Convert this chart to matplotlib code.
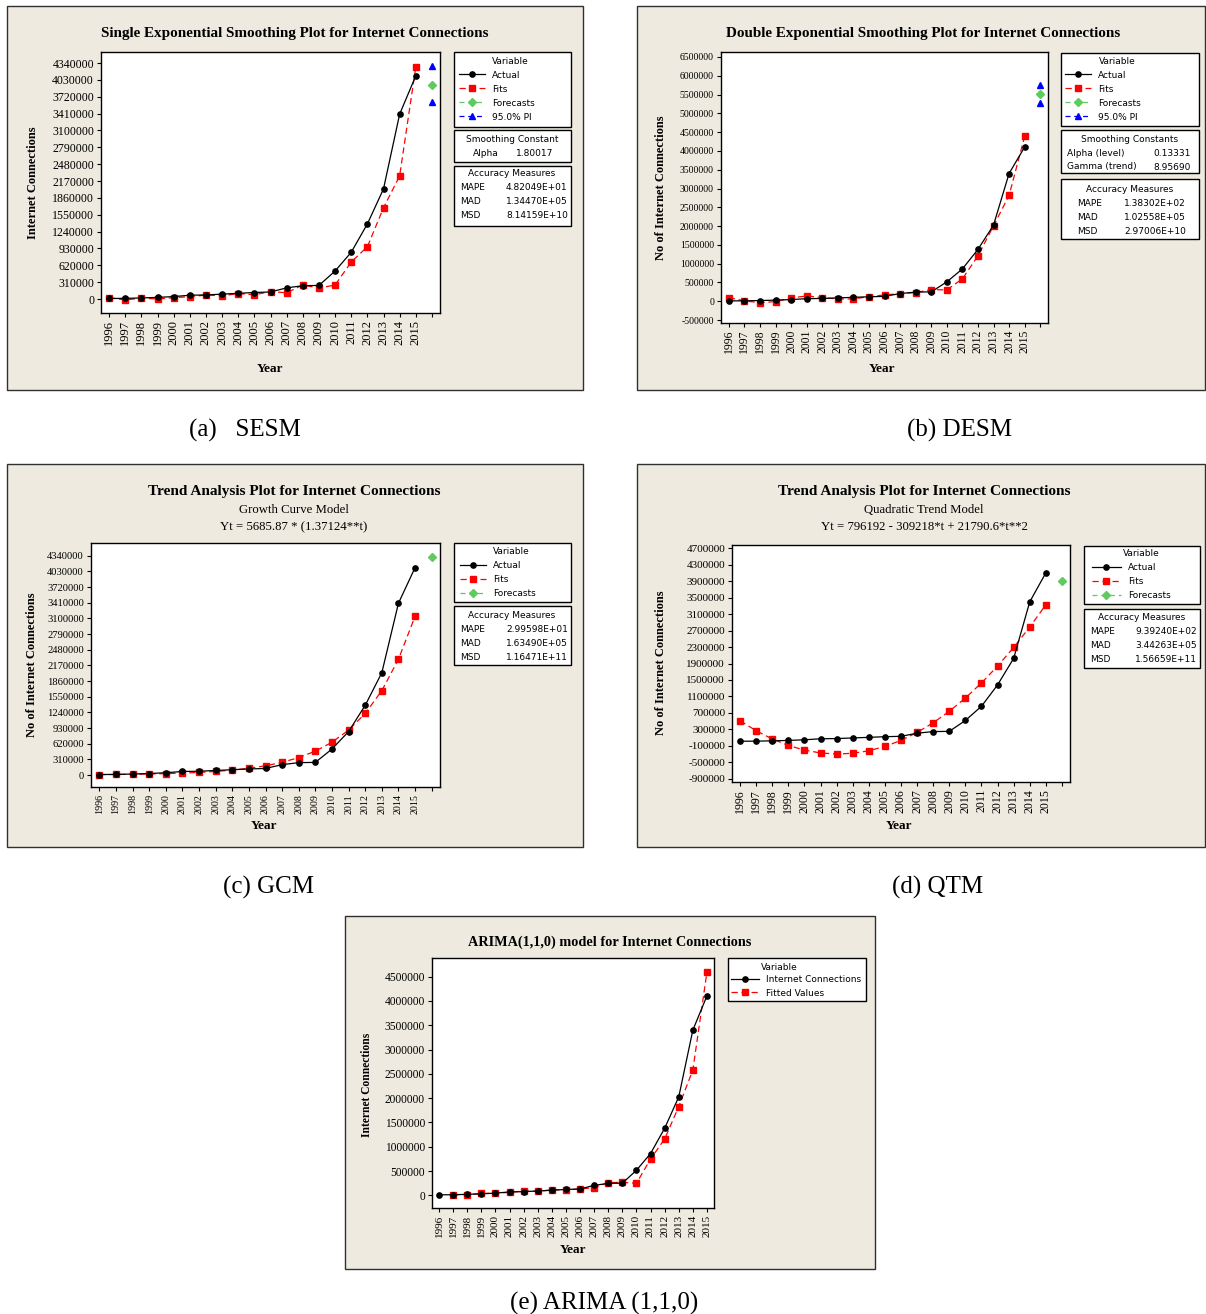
import numpy as np
import matplotlib
matplotlib.use('Agg')
import matplotlib.pyplot as plt
import matplotlib.transforms as mtransforms
from matplotlib.patches import Rectangle
from matplotlib.lines import Line2D

# --
# data

years = list(range(1996, 2016))

actual = [10000, 12000, 20000, 30000, 45000, 70000, 75000, 90000, 105000, 120000,
          130000, 205000, 245000, 250000, 515000, 860000, 1380000, 2025000, 3400000, 4105000]

sesm_fits = [25000, -18000, 18000, 0, 25000, 43000, 73000, 61000, 98000, 80000,
             135000, 116000, 257000, 202000, 257000, 680000, 961000, 1677000, 2265000, 4266000]
sesm_forecast = 3936000
sesm_pi = [3618000, 4285000]

desm_fits = [98000, 9000, -36000, -9000, 89000, 142000, 98000, 62000, 62000, 124000,
             169000, 204000, 231000, 311000, 302000, 595000, 1208000, 2007000, 2815000, 4387000]
desm_forecast = 5506000
desm_pi = [5275000, 5763000]

gcm_fits = [8000, 11000, 15000, 20000, 28000, 38000, 52000, 71000, 97000, 134000,
            183000, 251000, 345000, 473000, 648000, 889000, 1218000, 1671000, 2291000, 3142000]
gcm_forecast = 4308000

qtm_fits = [509000, 265000, 65000, -92000, -205000, -275000, -301000, -283000, -222000, -117000,
            31000, 223000, 459000, 738000, 1061000, 1427000, 1837000, 2290000, 2787000, 3328000]
qtm_forecast = 3912000

arima_fits = [None, 14000, 14000, 41000, 41000, 62000, 89000, 82000, 110000, 117000,
              130000, 158000, 261000, 268000, 247000, 748000, 1159000, 1825000, 2579000, 4596000]

ticks_a = list(range(0, 4340001, 310000))
ticks_b = list(range(-500000, 6500001, 500000))
ticks_d = list(range(-900000, 4700001, 400000))
ticks_e = list(range(0, 4500001, 500000))

sesm_acc = [('MAPE', '4.82049E+01'), ('MAD', '1.34470E+05'), ('MSD', '8.14159E+10')]
desm_acc = [('MAPE', '1.38302E+02'), ('MAD', '1.02558E+05'), ('MSD', '2.97006E+10')]
gcm_acc = [('MAPE', '2.99598E+01'), ('MAD', '1.63490E+05'), ('MSD', '1.16471E+11')]
qtm_acc = [('MAPE', '9.39240E+02'), ('MAD', '3.44263E+05'), ('MSD', '1.56659E+11')]

# --
# style

W, H = 1206, 1314
SERIF = 'Liberation Serif'
SANS = 'DejaVu Sans'
BG = '#EEEADF'
GREEN = '#5FCB5F'
LSZ = 6.5

fig = plt.figure(figsize=(W / 100, H / 100), dpi=100)
PX = mtransforms.Affine2D().scale(1 / W, -1 / H).translate(0, 1) + fig.transFigure

t = np.arange(1, len(years) + 1)

h_actual = Line2D([], [], color='black', lw=0.9, marker='o', ms=3.8)
h_fits = Line2D([], [], color='red', lw=0.9, ls=(0, (5, 3)), marker='s', ms=4.2)
h_fc = Line2D([], [], color=GREEN, lw=0.9, ls=(0, (4, 3)), marker='D', ms=3.8)
h_pi = Line2D([], [], color='blue', lw=0.9, ls=(0, (4, 3)), marker='^', ms=4.2)


def rect(x0, y0, x1, y1):
  return [x0 / W, 1 - y1 / H, (x1 - x0) / W, (y1 - y0) / H]


def box(x0, y0, x1, y1, fc='white', ec='black', z=1):
  fig.add_artist(Rectangle((x0, y0), x1 - x0, y1 - y0, transform=PX,
                           facecolor=fc, edgecolor=ec, lw=1, zorder=z))


def txt(x, y, s, **kw):
  kw.setdefault('ha', 'center')
  kw.setdefault('va', 'center')
  kw.setdefault('family', SANS)
  kw.setdefault('fontsize', LSZ)
  fig.text(x, y, s, transform=PX, **kw)


def legend_rows(x, ys, handles, labels, hl=2.9):
  for y, h, l in zip(ys, handles, labels):
    fig.legend([h], [l], loc='center left', bbox_to_anchor=(x, y), bbox_transform=PX,
               frameon=False, prop={'family': SANS, 'size': LSZ}, handlelength=hl,
               handletextpad=0.8, borderpad=0, borderaxespad=0, numpoints=1)


def main_axes(pbox, n, ylim, yticks, ysz, xsz):
  ax = fig.add_axes(rect(*pbox))
  ax.set_xlim(0.5, n + 0.5)
  ax.set_ylim(*ylim)
  ax.set_xticks(range(1, n + 1))
  ax.set_xticklabels([str(y) for y in years] + [''] * (n - len(years)),
                     rotation=90, family=SERIF, fontsize=xsz)
  ax.set_yticks(yticks)
  ax.set_yticklabels([str(v) for v in yticks], family=SERIF, fontsize=ysz)
  ax.tick_params(direction='out', length=3, width=0.8, pad=2)
  for s in ax.spines.values():
    s.set_linewidth(1)
  return ax


def plot_pair(ax, fits):
  ax.plot(t, actual, color='black', lw=0.9, marker='o', ms=3.8, zorder=3)
  ax.plot(t, np.array(fits, dtype=float), color='red', lw=0.9, ls=(0, (5, 3)),
          marker='s', ms=4.2, zorder=2)


def acc_table(cx, x_lab, x_val, y0, rows):
  txt(cx, y0, 'Accuracy Measures')
  for i, (k, v) in enumerate(rows):
    txt(x_lab, y0 + 14 * (i + 1), k, ha='left')
    txt(x_val, y0 + 14 * (i + 1), v, ha='left')


nxt = len(years) + 1

# --
# panel backgrounds

for b in [(7, 6, 583, 390), (637, 6, 1205, 390), (7, 464, 583, 847),
          (637, 464, 1205, 847), (345, 916, 875, 1269)]:
  box(*b, fc=BG, ec='#303030', z=-5)

# --
# (a) SESM

ax = main_axes((101, 52, 440, 313), 21, (-257000, 4543000), ticks_a, 8.6, 9)
plot_pair(ax, sesm_fits)
ax.plot([nxt], [sesm_forecast], ls='none', marker='D', ms=3.8, color=GREEN)
ax.plot([nxt, nxt], sesm_pi, ls='none', marker='^', ms=4.7, color='blue')
txt(295, 34, 'Single Exponential Smoothing Plot for Internet Connections',
    family=SERIF, fontsize=10.9, weight='bold')
txt(33, 183, 'Internet Connections', family=SERIF, fontsize=9, weight='bold', rotation=90)
txt(270, 369, 'Year', family=SERIF, fontsize=9.5, weight='bold')

box(454, 52, 571, 127)
txt(510, 61, 'Variable')
legend_rows(459, [75, 89, 103, 117], [h_actual, h_fits, h_fc, h_pi],
            ['Actual', 'Fits', 'Forecasts', '95.0% PI'])
box(454, 130, 571, 162)
txt(512, 139, 'Smoothing Constant')
txt(473, 153, 'Alpha', ha='left')
txt(516, 153, '1.80017', ha='left')
box(454, 166, 571, 226)
acc_table(512, 460, 506, 174, sesm_acc)

# --
# (b) DESM

ax = main_axes((721, 52, 1048, 323), 21, (-578000, 6633000), ticks_b, 7, 8.4)
plot_pair(ax, desm_fits)
ax.plot([nxt], [desm_forecast], ls='none', marker='D', ms=3.8, color=GREEN)
ax.plot([nxt, nxt], desm_pi, ls='none', marker='^', ms=4.7, color='blue')
txt(923, 34, 'Double Exponential Smoothing Plot for Internet Connections',
    family=SERIF, fontsize=10.9, weight='bold')
txt(661, 188, 'No of Internet Connections', family=SERIF, fontsize=9, weight='bold', rotation=90)
txt(882, 369, 'Year', family=SERIF, fontsize=9.5, weight='bold')

box(1061, 53, 1199, 126)
txt(1117, 62, 'Variable')
legend_rows(1065, [75, 89, 103, 117], [h_actual, h_fits, h_fc, h_pi],
            ['Actual', 'Fits', 'Forecasts', '95.0% PI'])
box(1061, 130, 1199, 173)
txt(1130, 139, 'Smoothing Constants')
txt(1067, 154, 'Alpha (level)', ha='left')
txt(1191, 154, '0.13331', ha='right')
txt(1067, 167, 'Gamma (trend)', ha='left')
txt(1191, 167, '8.95690', ha='right')
box(1061, 179, 1199, 239)
acc_table(1130, 1077, 1124, 189, desm_acc)

# --
# (c) GCM

ax = main_axes((91, 543, 440, 787), 21, (-237000, 4592000), ticks_a, 7.6, 7.2)
plot_pair(ax, gcm_fits)
ax.plot([nxt], [gcm_forecast], ls='none', marker='D', ms=3.8, color=GREEN)
txt(294, 492, 'Trend Analysis Plot for Internet Connections',
    family=SERIF, fontsize=11, weight='bold')
txt(294, 510, 'Growth Curve Model', family=SERIF, fontsize=9.2)
txt(294, 527, 'Yt = 5685.87 * (1.37124**t)', family=SERIF, fontsize=9.2)
txt(32, 665, 'No of Internet Connections', family=SERIF, fontsize=9, weight='bold', rotation=90)
txt(264, 826, 'Year', family=SERIF, fontsize=9.5, weight='bold')

box(454, 543, 571, 602)
txt(511, 552, 'Variable')
legend_rows(460, [566, 580, 594], [h_actual, h_fits, h_fc], ['Actual', 'Fits', 'Forecasts'])
box(454, 606, 571, 665)
acc_table(512, 460, 506, 616, gcm_acc)

# --
# (d) QTM

ax = main_axes((732, 545, 1070, 782), 21, (-981000, 4781000), ticks_d, 8, 8.6)
plot_pair(ax, qtm_fits)
ax.plot([nxt], [qtm_forecast], ls='none', marker='D', ms=3.8, color=GREEN)
txt(924, 492, 'Trend Analysis Plot for Internet Connections',
    family=SERIF, fontsize=11, weight='bold')
txt(924, 510, 'Quadratic Trend Model', family=SERIF, fontsize=9.2)
txt(924, 527, 'Yt = 796192 - 309218*t + 21790.6*t**2', family=SERIF, fontsize=9.2)
txt(661, 663, 'No of Internet Connections', family=SERIF, fontsize=9, weight='bold', rotation=90)
txt(899, 826, 'Year', family=SERIF, fontsize=9.5, weight='bold')

box(1084, 546, 1200, 604)
txt(1141, 554, 'Variable')
legend_rows(1092, [568, 582, 596], [h_actual, h_fits, h_fc], ['Actual', 'Fits', 'Forecasts'],
            hl=3.2)
box(1084, 609, 1200, 668)
acc_table(1142, 1090, 1135, 617, qtm_acc)

# --
# (e) ARIMA

ax = main_axes((432, 958, 714, 1208), 20, (-261000, 4884000), ticks_e, 8.3, 8)
plot_pair(ax, arima_fits)
txt(610, 942, 'ARIMA(1,1,0) model for Internet Connections',
    family=SERIF, fontsize=10.3, weight='bold')
txt(367, 1085, 'Internet Connections', family=SERIF, fontsize=8.3, weight='bold', rotation=90)
txt(573, 1250, 'Year', family=SERIF, fontsize=9.5, weight='bold')

box(728, 958, 866, 1001)
txt(779, 967, 'Variable')
legend_rows(731, [980, 993], [h_actual, h_fits], ['Internet Connections', 'Fitted Values'],
            hl=3.1)

# --
# captions

txt(245, 437, '(a)   SESM', family=SERIF, fontsize=18, va='baseline')
txt(960, 437, '(b) DESM', family=SERIF, fontsize=18, va='baseline')
txt(269, 894, '(c) GCM', family=SERIF, fontsize=18, va='baseline')
txt(938, 894, '(d) QTM', family=SERIF, fontsize=18, va='baseline')
txt(604, 1310, '(e) ARIMA (1,1,0)', family=SERIF, fontsize=18, va='baseline')

fig.savefig('out.png', dpi=100, facecolor='white')
